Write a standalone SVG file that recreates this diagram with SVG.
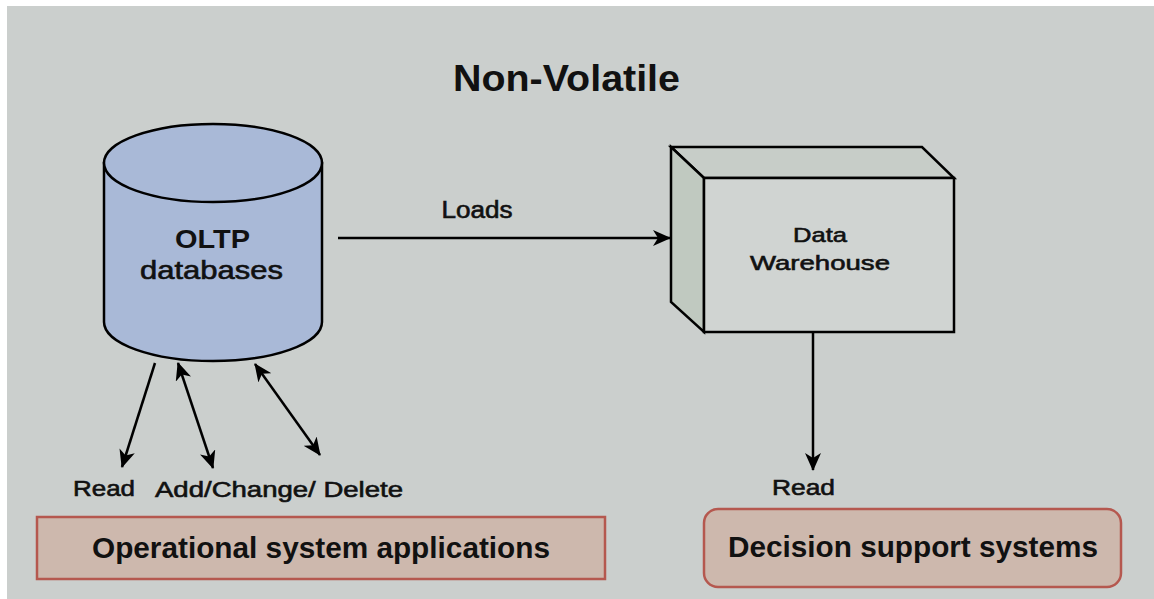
<svg xmlns="http://www.w3.org/2000/svg" width="1154" height="599" viewBox="0 0 1154 599">
<style>
.t{font-family:"Liberation Sans",Arial,sans-serif;fill:#111;text-anchor:middle}
.r{stroke:#111;stroke-width:0.6}
.b{font-weight:bold}
.ln{stroke:#000;stroke-width:2.5;fill:none}
.app{fill:#cdb8ad;stroke:#b5584f;stroke-width:2.5}
.edge{stroke:#000;stroke-width:2.5;stroke-linejoin:miter}
</style>
<defs>
<marker id="ah" viewBox="0 0 18 16" refX="17" refY="8" markerWidth="18" markerHeight="16" markerUnits="userSpaceOnUse" orient="auto-start-reverse">
<path d="M0,0 L18,8 L0,16 L5,8 Z" fill="#000"/>
</marker>
</defs>
<rect x="0" y="0" width="1154" height="599" fill="#ffffff"/>
<rect x="7" y="6" width="1147" height="593" fill="#cbcfcd"/>
<text class="t b" x="566.5" y="91" font-size="36" textLength="227" lengthAdjust="spacingAndGlyphs">Non-Volatile</text>
<g id="oltp">
<path d="M104,163 L104,322 A109,39 0 0 0 322,322 L322,163 Z" fill="#a9b9d7" class="edge"/>
<ellipse cx="213" cy="163" rx="109" ry="39" fill="#a9b9d7" class="edge"/>
<text class="t b" x="212.5" y="248" font-size="25" textLength="75" lengthAdjust="spacingAndGlyphs">OLTP</text>
<text class="t r" x="211.5" y="279" font-size="25" textLength="143" lengthAdjust="spacingAndGlyphs">databases</text>
</g>
<g id="warehouse">
<polygon points="671,147 922,147 954,178 704,178" fill="#c7cdc8" class="edge"/>
<polygon points="671,147 704,178 704,332 671,302" fill="#c0c9c0" class="edge"/>
<rect x="704" y="178" width="250" height="154" fill="#d0d4d2" class="edge"/>
<text class="t r" x="820" y="242" font-size="21" textLength="54" lengthAdjust="spacingAndGlyphs">Data</text>
<text class="t r" x="820" y="270" font-size="21" textLength="140" lengthAdjust="spacingAndGlyphs">Warehouse</text>
</g>
<g id="operational">
<rect x="37" y="517" width="568" height="62" class="app"/>
<text class="t b" x="321" y="558" font-size="29" textLength="458" lengthAdjust="spacingAndGlyphs">Operational system applications</text>
</g>
<g id="decision">
<rect x="704" y="509" width="417" height="78" rx="14" class="app"/>
<text class="t b" x="913" y="557" font-size="29" textLength="370" lengthAdjust="spacingAndGlyphs">Decision support systems</text>
</g>
<g id="connectors">
<line x1="338" y1="238" x2="670" y2="238" class="ln" marker-end="url(#ah)"/>
<line x1="155" y1="363" x2="122" y2="467" class="ln" marker-end="url(#ah)"/>
<line x1="178" y1="363" x2="213" y2="468" class="ln" marker-start="url(#ah)" marker-end="url(#ah)"/>
<line x1="255" y1="364" x2="320" y2="455" class="ln" marker-start="url(#ah)" marker-end="url(#ah)"/>
<line x1="813" y1="332" x2="813" y2="470" class="ln" marker-end="url(#ah)"/>
<text class="t r" x="477" y="218" font-size="23" textLength="71" lengthAdjust="spacingAndGlyphs">Loads</text>
<text class="t r" x="104" y="496" font-size="22" textLength="62" lengthAdjust="spacingAndGlyphs">Read</text>
<text class="t r" x="279" y="497" font-size="22" textLength="248" lengthAdjust="spacingAndGlyphs">Add/Change/ Delete</text>
<text class="t r" x="803.5" y="495" font-size="22" textLength="63" lengthAdjust="spacingAndGlyphs">Read</text>
</g>
</svg>
